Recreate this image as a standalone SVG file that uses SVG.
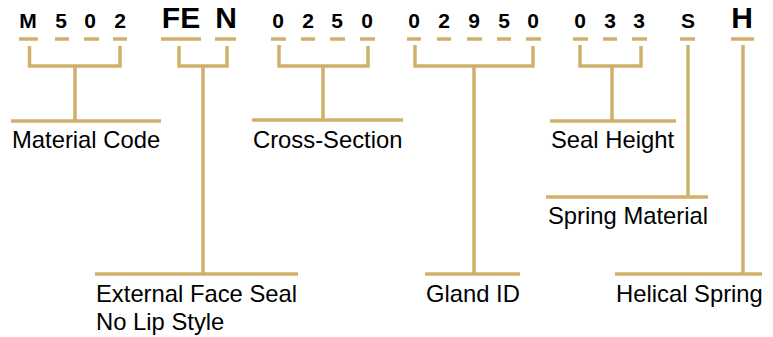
<svg xmlns="http://www.w3.org/2000/svg" width="773" height="337" viewBox="0 0 773 337">
<style>
.ln{stroke:#D0B06A;stroke-width:3.5;fill:none}
.c{font-family:"Liberation Sans",Arial,sans-serif;font-weight:bold;font-size:21px;fill:#000;text-anchor:middle}
.cb{font-family:"Liberation Sans",Arial,sans-serif;font-weight:bold;font-size:30px;fill:#000;text-anchor:middle}
.lb{font-family:"Liberation Sans",Arial,sans-serif;font-size:23.8px;fill:#000}
</style>
<rect width="773" height="337" fill="#fff"/>
<g id="code">
<text class="c" x="28" y="28">M</text>
<text class="c" x="61" y="28">5</text>
<text class="c" x="90" y="28">0</text>
<text class="c" x="120" y="28">2</text>
<text class="cb" x="181" y="28">FE</text>
<text class="cb" x="226" y="28">N</text>
<text class="c" x="278" y="28">0</text>
<text class="c" x="308" y="28">2</text>
<text class="c" x="337" y="28">5</text>
<text class="c" x="367" y="28">0</text>
<text class="c" x="414" y="28">0</text>
<text class="c" x="444" y="28">2</text>
<text class="c" x="474" y="28">9</text>
<text class="c" x="504" y="28">5</text>
<text class="c" x="533" y="28">0</text>
<text class="c" x="580" y="28">0</text>
<text class="c" x="610" y="28">3</text>
<text class="c" x="639" y="28">3</text>
<text class="c" x="688" y="28">S</text>
<text class="cb" x="742" y="28">H</text>
</g>
<g id="dashes">
<path class="ln" d="M19 39H38M55 39H69M84 39H99M113 39H127M161 39H201M215 39H236M271 39H286M301 39H315M330 39H345M360 39H375M407 39H421M437 39H451M467 39H482M497 39H511M526 39H541M573 39H588M603 39H617M632 39H647M680 39H695M731 39H754"/>
</g>
<g id="connectors">
<path class="ln" d="M29.5 46V66H120V46M75 66V121"/>
<path class="ln" d="M179 46V66H227V46M203 66V274"/>
<path class="ln" d="M279 45V66H368V46M323 66V120"/>
<path class="ln" d="M415 45V66H533V46M474 66V274"/>
<path class="ln" d="M580 45V66H641V46M612 66V121"/>
<path class="ln" d="M688 45V197"/>
<path class="ln" d="M743 45V274"/>
</g>
<g id="material-code">
<path class="ln" d="M11 121H161"/>
<text class="lb" x="12" y="148">Material Code</text>
</g>
<g id="cross-section">
<path class="ln" d="M252 120H403"/>
<text class="lb" x="253" y="148">Cross-Section</text>
</g>
<g id="seal-height">
<path class="ln" d="M550 121H676"/>
<text class="lb" x="551" y="148">Seal Height</text>
</g>
<g id="spring-material">
<path class="ln" d="M546 197H708"/>
<text class="lb" x="548" y="224">Spring Material</text>
</g>
<g id="external-face-seal">
<path class="ln" d="M95 274H298"/>
<text class="lb" x="96" y="302">External Face Seal</text>
<text class="lb" x="96" y="330">No Lip Style</text>
</g>
<g id="gland-id">
<path class="ln" d="M425 274H520"/>
<text class="lb" x="426" y="302">Gland ID</text>
</g>
<g id="helical-spring">
<path class="ln" d="M615 274H762"/>
<text class="lb" x="616" y="302">Helical Spring</text>
</g>
</svg>
